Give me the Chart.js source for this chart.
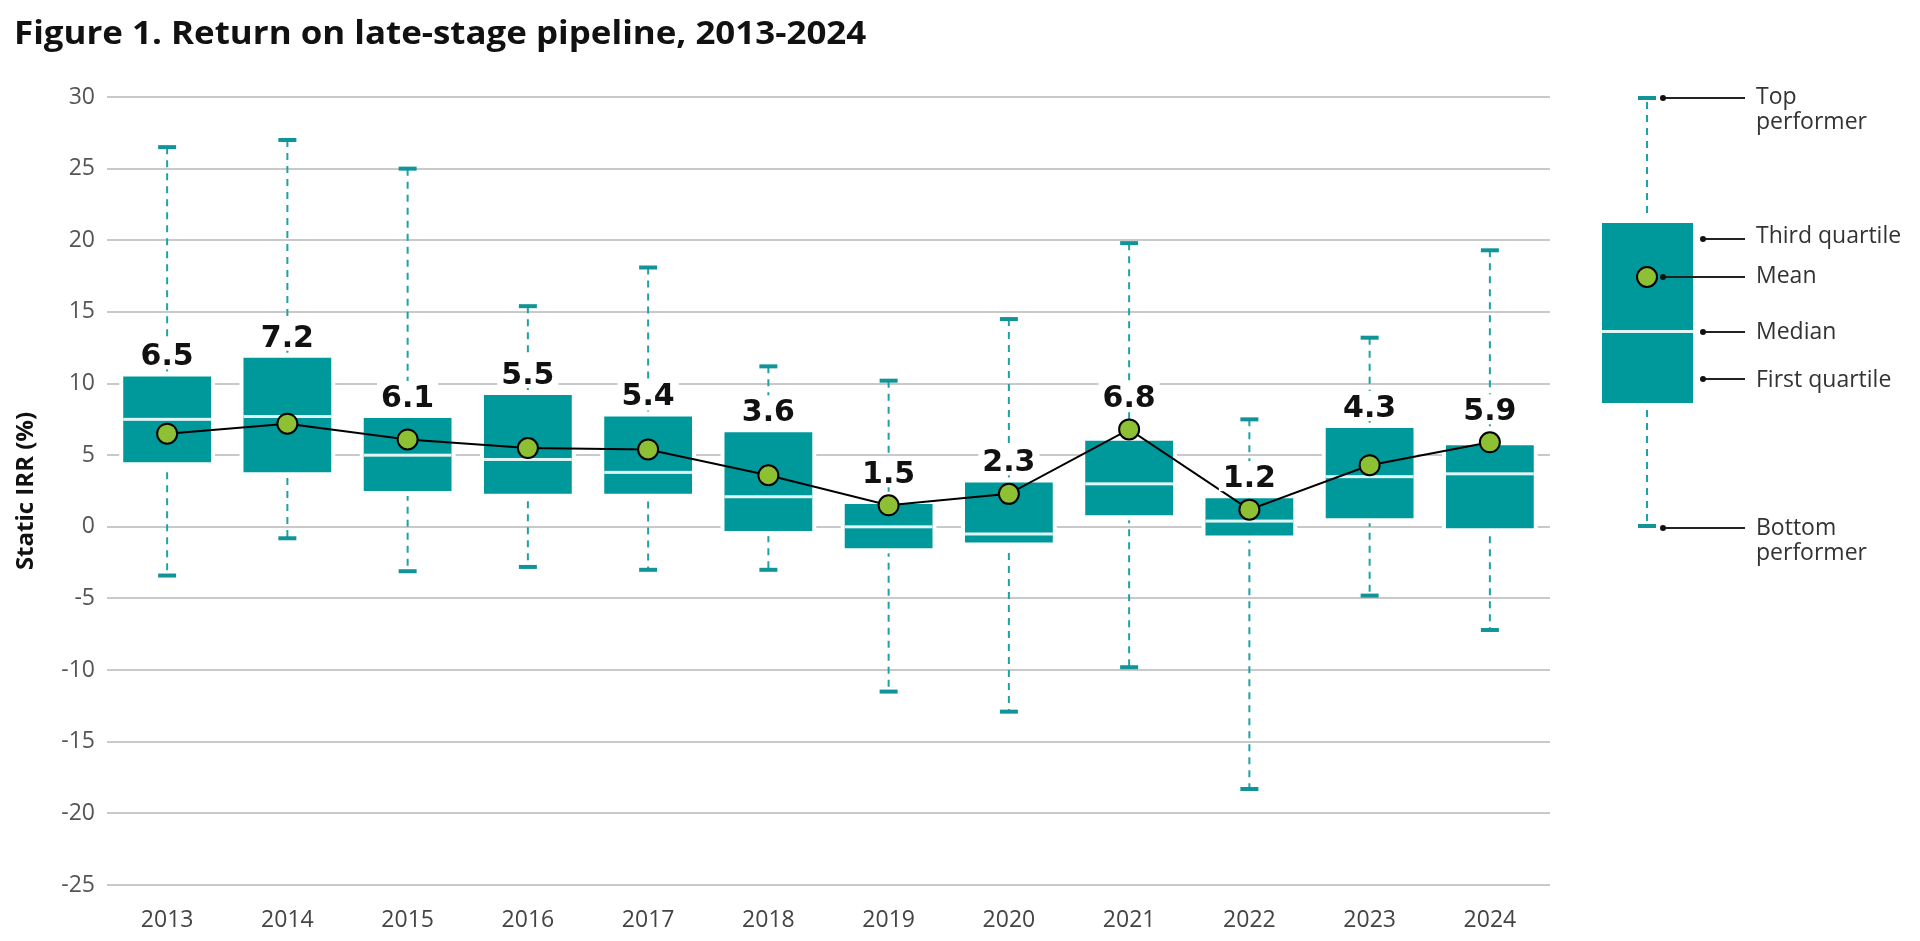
<!DOCTYPE html>
<html>
<head>
<meta charset="utf-8">
<script src="https://cdn.jsdelivr.net/npm/chart.js@4.4.1/dist/chart.umd.min.js"></script>
<style>
  html, body { margin: 0; padding: 0; background: #fff; }
  body { width: 1920px; height: 941px; position: relative; overflow: hidden; font-family: 'Open Sans', sans-serif; }
  #wrap { position: absolute; left: 0; top: 0; width: 1920px; height: 941px; }
  #title { position: absolute; left: 14px; top: 12px; font-weight: 700; font-size: 32px; line-height: 40px; color: #111; white-space: nowrap; transform-origin: left top; }
  #key { position: absolute; left: 0; top: 0; }
  #key text { font-family: 'Open Sans', sans-serif; font-size: 23px; fill: #333; }
</style>
</head>
<body>
<div id="wrap"><canvas id="chart"></canvas></div>
<div id="title">Figure 1. Return on late-stage pipeline, 2013-2024</div>
<svg id="key" width="1920" height="941">
  <line x1="1647" y1="102" x2="1647" y2="216" stroke="#1fa2a5" stroke-width="2" stroke-dasharray="7 6"/>
  <line x1="1647" y1="410" x2="1647" y2="524" stroke="#1fa2a5" stroke-width="2" stroke-dasharray="7 6"/>
  <rect x="1638" y="96" width="18" height="4" fill="#119497"/>
  <rect x="1638" y="524" width="18" height="4" fill="#119497"/>
  <rect x="1602" y="223" width="91" height="180" fill="#00999b"/>
  <rect x="1602" y="330" width="91" height="3" fill="#dff4f4"/>
  <circle cx="1647" cy="277" r="10" fill="#8dc032" stroke="#000" stroke-width="2"/>
  <g stroke="#222" stroke-width="2">
    <line x1="1663" y1="98" x2="1745" y2="98"/>
    <line x1="1703" y1="239" x2="1745" y2="239"/>
    <line x1="1663" y1="277" x2="1745" y2="277"/>
    <line x1="1703" y1="332" x2="1745" y2="332"/>
    <line x1="1703" y1="379" x2="1745" y2="379"/>
    <line x1="1663" y1="528" x2="1745" y2="528"/>
  </g>
  <g fill="#111">
    <circle cx="1663" cy="98" r="3"/>
    <circle cx="1703" cy="239" r="3"/>
    <circle cx="1663" cy="277" r="3"/>
    <circle cx="1703" cy="332" r="3"/>
    <circle cx="1703" cy="379" r="3"/>
    <circle cx="1663" cy="528" r="3"/>
  </g>
  <text x="1756" y="104">Top</text>
  <text x="1756" y="129">performer</text>
  <text x="1756" y="243">Third quartile</text>
  <text x="1756" y="283">Mean</text>
  <text x="1756" y="339">Median</text>
  <text x="1756" y="387">First quartile</text>
  <text x="1756" y="535">Bottom</text>
  <text x="1756" y="560">performer</text>
</svg>
<script>
const years = ['2013', '2014', '2015', '2016', '2017', '2018', '2019', '2020', '2021', '2022', '2023', '2024'];
const topPerformer = [26.5, 27.0, 25.0, 15.4, 18.1, 11.2, 10.2, 14.5, 19.8, 7.5, 13.2, 19.3];
const thirdQuartile = [10.5, 11.8, 7.6, 9.2, 7.7, 6.6, 1.6, 3.1, 6.0, 2.0, 6.9, 5.7];
const median = [7.5, 7.7, 5.0, 4.7, 3.8, 2.1, 0.0, -0.5, 3.0, 0.4, 3.5, 3.7];
const firstQuartile = [4.5, 3.8, 2.5, 2.3, 2.3, -0.3, -1.5, -1.1, 0.8, -0.6, 0.6, -0.1];
const bottomPerformer = [-3.4, -0.8, -3.1, -2.8, -3.0, -3.0, -11.5, -12.9, -9.8, -18.3, -4.8, -7.2];
const mean = [6.5, 7.2, 6.1, 5.5, 5.4, 3.6, 1.5, 2.3, 6.8, 1.2, 4.3, 5.9];
const yTicks = { min: -25, max: 30, step: 5 };

const TEAL = '#00999b';
const WHISKER = '#1fa2a5';
const CAP = '#119497';
const GREEN = '#8dc032';

// fit the title to the width it has in the original
const titleEl = document.getElementById('title');
titleEl.style.transform = 'scaleX(' + (852 / titleEl.scrollWidth) + ')';

// whiskers, medians and mean labels, drawn from the data through the y scale
const boxExtras = {
  id: 'boxExtras',
  beforeDatasetsDraw(chart) {
    const ctx = chart.ctx;
    const y = chart.scales.y;
    const bars = chart.getDatasetMeta(0).data;
    ctx.save();
    bars.forEach((bar, i) => {
      const x = bar.x;
      ctx.strokeStyle = WHISKER;
      ctx.lineWidth = 2;
      ctx.setLineDash([7, 6]);
      ctx.beginPath();
      ctx.moveTo(x, y.getPixelForValue(topPerformer[i]));
      ctx.lineTo(x, y.getPixelForValue(bottomPerformer[i]));
      ctx.stroke();
      ctx.setLineDash([]);

      // white margin round the box
      const top = y.getPixelForValue(thirdQuartile[i]);
      const bot = y.getPixelForValue(firstQuartile[i]);
      ctx.fillStyle = '#fff';
      ctx.fillRect(x - bar.width / 2 - 4, top - 5, bar.width + 8, bot - top + 10);

      ctx.fillStyle = CAP;
      [topPerformer[i], bottomPerformer[i]].forEach(v => {
        const py = y.getPixelForValue(v);
        ctx.fillRect(x - 9, py - 2, 18, 4);
      });
    });
    ctx.restore();
  },
  afterDatasetDraw(chart, args) {
    if (args.index !== 0) return;
    const ctx = chart.ctx;
    const y = chart.scales.y;
    ctx.save();
    ctx.fillStyle = '#dff4f4';
    args.meta.data.forEach((bar, i) => {
      const py = y.getPixelForValue(median[i]);
      ctx.fillRect(bar.x - bar.width / 2, py - 1.5, bar.width, 3);
    });
    ctx.restore();
  },
  afterDatasetsDraw(chart) {
    const ctx = chart.ctx;
    const y = chart.scales.y;
    const bars = chart.getDatasetMeta(0).data;
    ctx.save();
    ctx.font = 'bold 30px "DejaVu Sans", Verdana, sans-serif';
    ctx.textAlign = 'center';
    ctx.textBaseline = 'alphabetic';
    bars.forEach((bar, i) => {
      const txt = mean[i].toFixed(1);
      const top = Math.min(y.getPixelForValue(thirdQuartile[i]), y.getPixelForValue(mean[i]) - 11);
      const base = top - 11;
      const w = ctx.measureText(txt).width;
      ctx.fillStyle = '#fff';
      ctx.fillRect(bar.x - w / 2 - 4, base - 26, w + 8, 30);
      ctx.fillStyle = '#111';
      ctx.fillText(txt, bar.x, base);
    });
    ctx.restore();
  }
};

new Chart(document.getElementById('chart'), {
  data: {
    labels: years,
    datasets: [
      {
        type: 'bar',
        label: 'Interquartile range',
        data: years.map((_, i) => [firstQuartile[i], thirdQuartile[i]]),
        backgroundColor: TEAL,
        borderWidth: 0,
        categoryPercentage: 1,
        barPercentage: 0.73,
        order: 2
      },
      {
        type: 'line',
        label: 'Mean',
        data: mean,
        borderColor: '#000',
        borderWidth: 2,
        tension: 0,
        pointRadius: 10,
        pointBackgroundColor: GREEN,
        pointBorderColor: '#000',
        pointBorderWidth: 2,
        order: 1
      }
    ]
  },
  options: {
    responsive: true,
    maintainAspectRatio: false,
    animation: false,
    layout: { padding: { left: 12, right: 370, top: 97, bottom: 0 } },
    plugins: {
      legend: { display: false },
      tooltip: { enabled: false }
    },
    scales: {
      x: {
        grid: { display: false },
        border: { display: false },
        ticks: { color: '#444', padding: 14, font: { family: 'Open Sans', size: 23 } },
        afterFit: (scale) => { scale.height = 56; }
      },
      y: {
        min: yTicks.min,
        max: yTicks.max,
        grid: { color: '#c9c9c9', lineWidth: 2, drawTicks: false },
        border: { display: false },
        ticks: { stepSize: yTicks.step, color: '#555', padding: 12, font: { family: 'Open Sans', size: 23 } },
        title: {
          display: true,
          text: 'Static IRR (%)',
          color: '#111',
          padding: 0,
          font: { family: 'Open Sans', size: 24, weight: 'bold' }
        },
        afterFit: (scale) => { scale.width = 95; }
      }
    }
  },
  plugins: [boxExtras]
});
</script>
</body>
</html>
